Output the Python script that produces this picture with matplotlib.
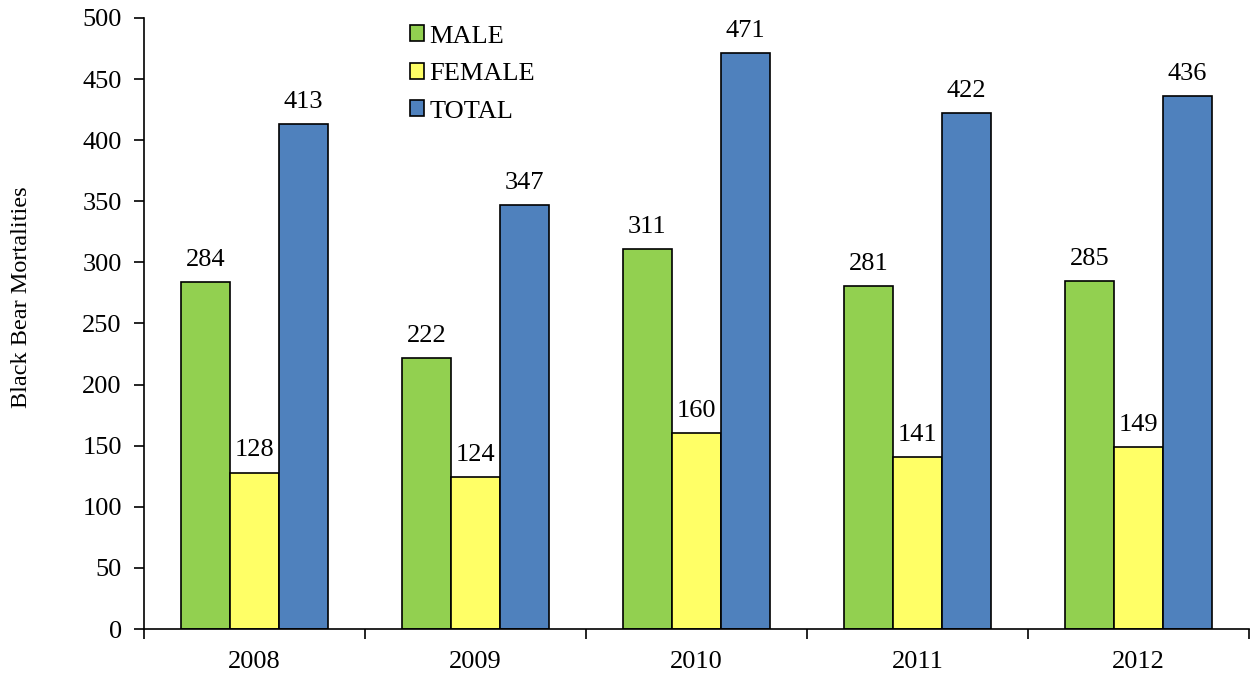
import matplotlib
matplotlib.use("Agg")
import matplotlib.pyplot as plt
from matplotlib import font_manager
import numpy as np

years = ["2008", "2009", "2010", "2011", "2012"]
male = [284, 222, 311, 281, 285]
female = [128, 124, 160, 141, 149]
total = [413, 347, 471, 422, 436]
series_names = ["MALE", "FEMALE", "TOTAL"]
colors = ["#92D050", "#FFFF66", "#4F81BD"]

fam = "DejaVu Serif"
for f in font_manager.findSystemFonts():
    if "LiberationSerif-Regular" in f:
        font_manager.fontManager.addfont(f)
        fam = font_manager.FontProperties(fname=f).get_name()
        break
plt.rcParams['font.family'] = [fam, 'DejaVu Serif']

fig = plt.figure(figsize=(12.51, 6.76), dpi=100)
ax = fig.add_axes([0.1151, 0.0695, 0.8833, 0.9039])

x = np.arange(len(years))
w = 0.222
for i, (vals, name, c) in enumerate(zip([male, female, total], series_names, colors)):
    bars = ax.bar(x + (i - 1) * w, vals, w, color=c, edgecolor="black", linewidth=1.2, label=name)
    for b, v in zip(bars, vals):
        ax.annotate(str(v), (b.get_x() + b.get_width() / 2, v), xytext=(0, 8),
                    textcoords="offset points", ha="center", va="bottom", fontsize=19)

ax.set_xlim(-0.5, 4.5)
ax.set_ylim(0, 500)
ax.set_yticks(range(0, 501, 50))
ax.set_xticks(x)
ax.set_xticklabels(years)
ax.set_xticks(np.arange(-0.5, 4.6, 1), minor=True)
ax.tick_params(axis="x", which="major", length=0, pad=16, labelsize=19)
ax.tick_params(axis="x", which="minor", length=7, width=1.2, direction="out")
ax.tick_params(axis="y", length=7, width=1.2, direction="out", labelsize=19, pad=9)
for s in ["top", "right"]:
    ax.spines[s].set_visible(False)
for s in ["left", "bottom"]:
    ax.spines[s].set_linewidth(1.2)

ax.set_ylabel("Black Bear Mortalities", fontsize=17.5)
ax.yaxis.set_label_coords(-0.101, 0.543)

ax.legend(loc="upper left", bbox_to_anchor=(0.219, 1.027), frameon=False, fontsize=19,
          handlelength=0.55, handleheight=0.55, handletextpad=0.2, labelspacing=0.58)

fig.savefig("out.png", dpi=100)
